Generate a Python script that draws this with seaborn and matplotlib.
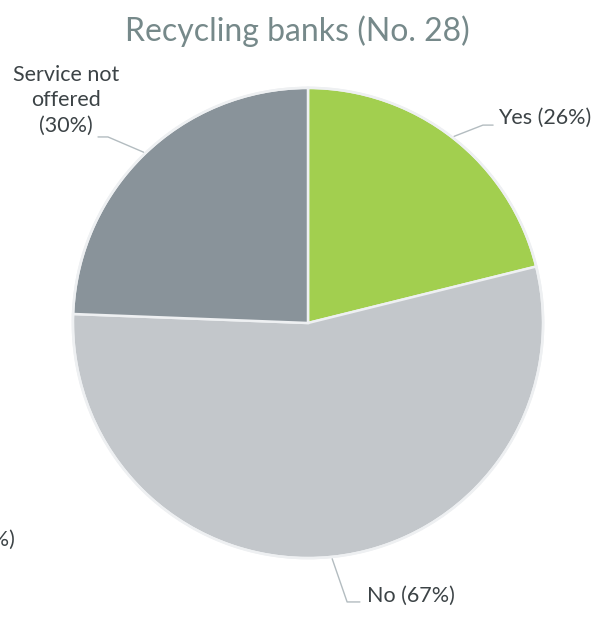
import numpy as np
import matplotlib
matplotlib.use("Agg")
import matplotlib.pyplot as plt
import seaborn as sns

# Survey answers for recycling banks
categories = ["Yes", "No", "Service not offered", "Don't know"]
percentages = [26, 67, 30, 0]
label_texts = ["Yes (26%)", "No (67%)", "Service not\noffered\n(30%)", "Don't know (0%)"]

sns.set_theme(style="white")
plt.rcParams["font.family"] = ["Lato", "DejaVu Sans"]

palette = {"Yes": "#a2cf4f", "No": "#c3c7cb",
           "Service not offered": "#89939a", "Don't know": "#5f6b70"}

W, H = 609, 619
fig = plt.figure(figsize=(W / 100, H / 100), dpi=100)
fig.patch.set_facecolor("white")

# pie axes: centre (308, 323) px, radius 237 px
cx, cy, R = 308, 323, 237
ax = fig.add_axes([(cx - R) / W, (H - cy - R) / H, 2 * R / W, 2 * R / H])

shown = [(c, v) for c, v in zip(categories, percentages) if v > 0]
wedges, _ = ax.pie([v for _, v in shown], colors=[palette[c] for c, _ in shown],
                   startangle=90, counterclock=False, radius=0.992,
                   wedgeprops=dict(edgecolor="#eef0f2", linewidth=1.8))
ax.add_patch(plt.Circle((0, 0), 0.992, fill=False, edgecolor="#eef0f2",
                        linewidth=1.8, zorder=5))
ax.set_aspect("auto")
ax.set_xlim(-1, 1)
ax.set_ylim(-1, 1)
ax.axis("off")

text_color = "#3c4346"
line_color = "#b3bcc0"

# label anchor, elbow and alignment for each category (axes data units)
label_pos = {
    "Yes": dict(xy=(0.802, 0.866), elbow=(0.738, 0.835), end=(0.781, 0.835), ha="left"),
    "No": dict(xy=(0.249, -1.152), elbow=(0.165, -1.177), end=(0.219, -1.177), ha="left"),
    "Service not offered": dict(xy=(-1.021, 0.939), elbow=(-0.844, 0.785), end=(-0.886, 0.785), ha="center"),
    "Don't know": dict(xy=(-1.236, -0.916), elbow=None, end=None, ha="right"),
}

wedge_of = {c: w for (c, _), w in zip(shown, wedges)}
for cat, txt in zip(categories, label_texts):
    p = label_pos[cat]
    if cat in wedge_of and p["elbow"] is not None:
        w = wedge_of[cat]
        mid = np.deg2rad((w.theta1 + w.theta2) / 2)
        sx, sy = np.cos(mid), np.sin(mid)
        ax.plot([sx, p["elbow"][0], p["end"][0]], [sy, p["elbow"][1], p["end"][1]],
                color=line_color, linewidth=1.0, clip_on=False, zorder=1)
    ax.text(p["xy"][0], p["xy"][1], txt, ha=p["ha"], va="center",
            fontsize=15.5, color=text_color, linespacing=1.33,
            multialignment="center", clip_on=False)

fig.text(297 / W, 1 - 31 / H, "Recycling banks (No. 28)", ha="center", va="center",
         fontsize=23, color="#76898a")

fig.savefig("out.png", dpi=100, facecolor="white")
